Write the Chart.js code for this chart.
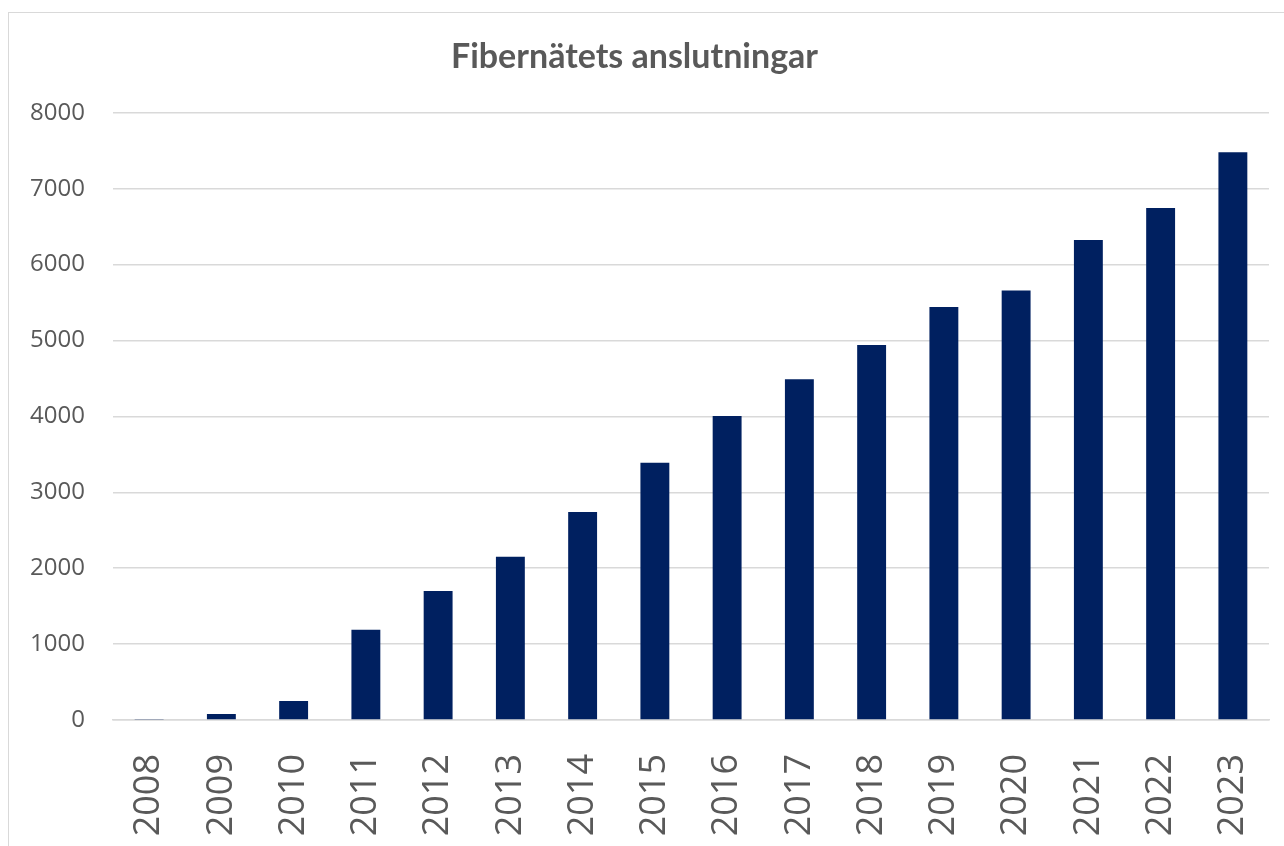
<!DOCTYPE html>
<html>
<head>
<meta charset="utf-8">
<script src="https://cdn.jsdelivr.net/npm/chart.js@4/dist/chart.umd.min.js"></script>
<style>
  html, body { margin: 0; padding: 0; background: #ffffff; overflow: hidden; }
  #frame { position: absolute; left: 8px; top: 12px; width: 1300px; height: 860px; border: 1.5px solid #d9d9d9; box-sizing: border-box; }
  #wrap { position: absolute; left: 0; top: 0; width: 1284px; height: 846px; }
</style>
</head>
<body>
<div id="frame"></div>
<div id="wrap"><canvas id="c" width="1284" height="846"></canvas></div>
<script>
const chartTitle = "Fibernätets anslutningar";
const years = ["2008","2009","2010","2011","2012","2013","2014","2015","2016","2017","2018","2019","2020","2021","2022","2023"];
const connections = [12, 80, 250, 1190, 1700, 2150, 2740, 3390, 4005, 4490, 4940, 5440, 5660, 6325, 6745, 7480];
const yTicks = [0, 1000, 2000, 3000, 4000, 5000, 6000, 7000, 8000];

const tickFont = "'Open Sans', 'Noto Sans', sans-serif";

new Chart(document.getElementById('c'), {
  type: 'bar',
  data: {
    labels: years,
    datasets: [{
      data: connections,
      backgroundColor: '#002060',
      borderWidth: 0,
      categoryPercentage: 1.0,
      barPercentage: 0.4
    }]
  },
  options: {
    responsive: false,
    animation: false,
    layout: { padding: { left: 0, right: 15, top: 0, bottom: 0 } },
    plugins: {
      legend: { display: false },
      tooltip: { enabled: false },
      title: {
        display: true,
        text: chartTitle,
        color: '#595959',
        font: { family: "Lato, sans-serif", size: 34, weight: 'bold' },
        padding: { top: 37, bottom: 35 }
      }
    },
    scales: {
      x: {
        grid: { display: false, drawTicks: false },
        border: { display: true, color: '#d9d9d9', width: 1.5 },
        ticks: {
          color: '#595959',
          font: { family: tickFont, size: 36 },
          minRotation: 90, maxRotation: 90,
          padding: 34
        },
        afterFit: (s) => { s.height = 126; s.paddingLeft = 0; s.paddingRight = 0; }
      },
      y: {
        min: 0, max: 8000,
        afterBuildTicks: (s) => { s.ticks = yTicks.map(v => ({ value: v })); },
        grid: { color: '#d9d9d9', lineWidth: 1.5, drawTicks: false },
        border: { display: false },
        ticks: {
          color: '#595959',
          font: { family: tickFont, size: 24 },
          padding: 28,
          callback: (v) => String(v)
        },
        afterFit: (s) => { s.width = 113; }
      }
    }
  }
});
</script>
</body>
</html>
